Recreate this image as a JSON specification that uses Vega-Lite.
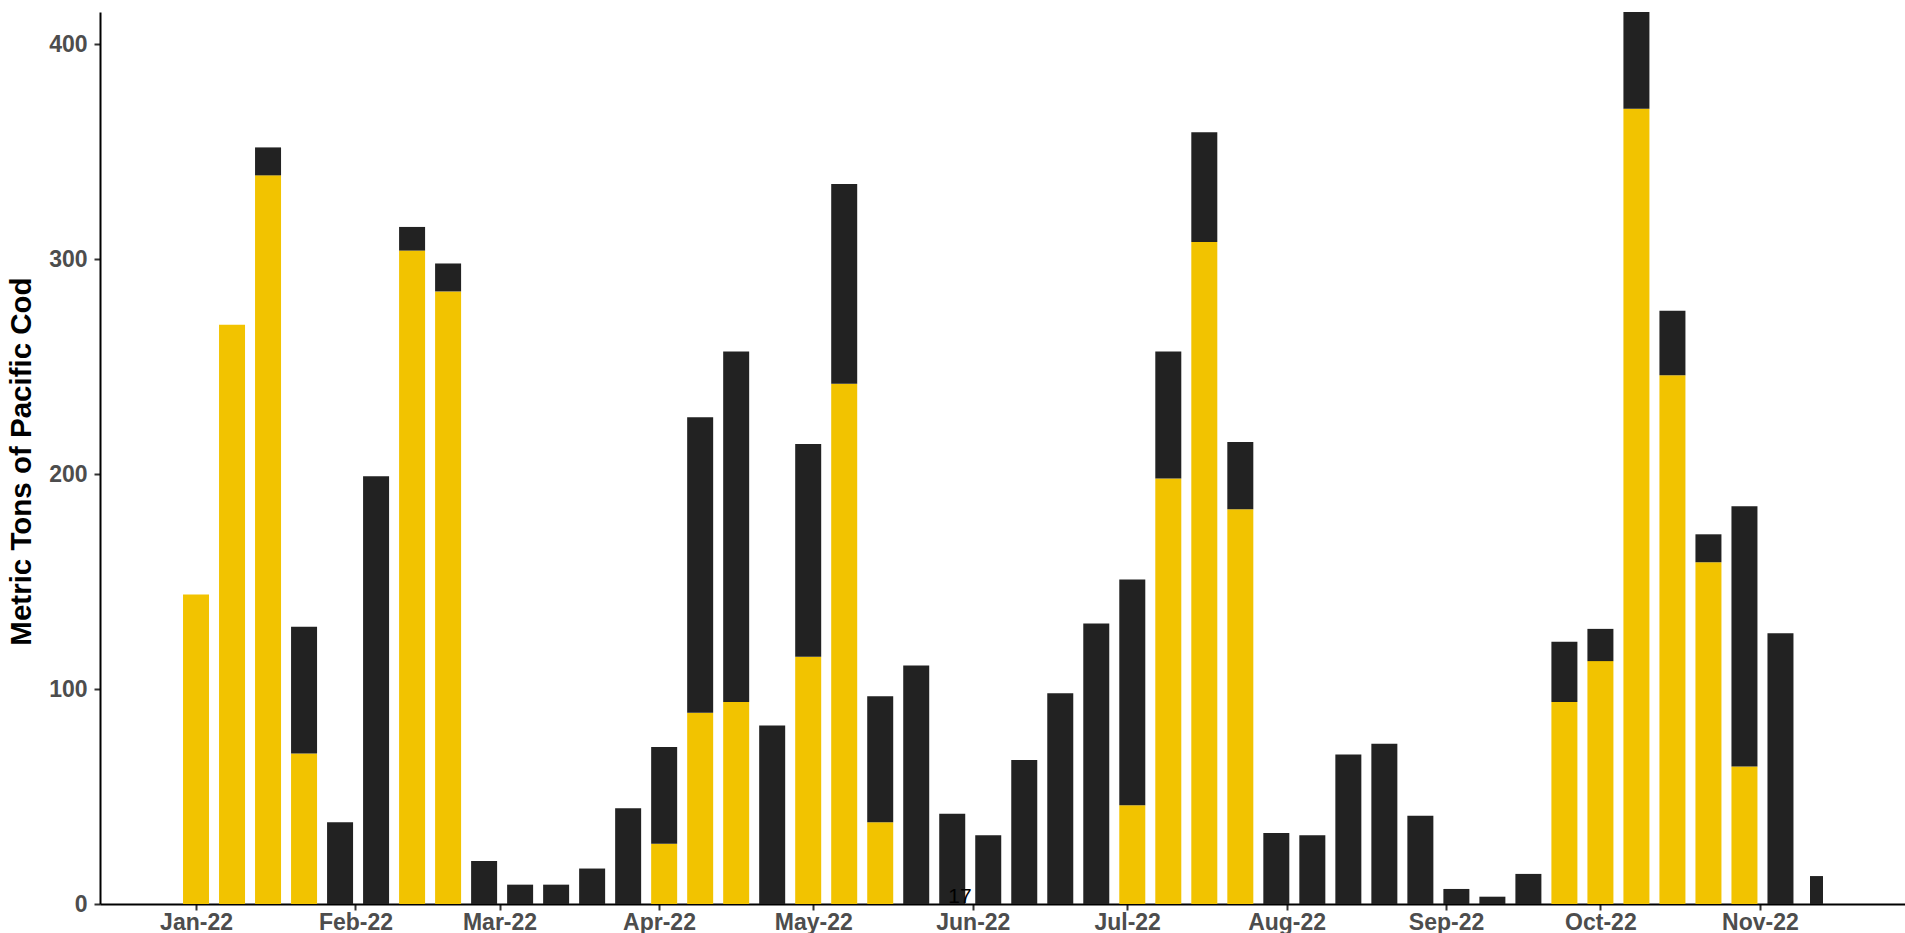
{
  "$schema": "https://vega.github.io/schema/vega-lite/v6.json",
  "autosize": {"type": "none"},
  "width": 1805,
  "height": 892,
  "padding": {"left": 100, "top": 12, "right": 0, "bottom": 29},
  "background": "white",
  "config": {"view": {"stroke": null}},
  "datasets": {
    "bars": [
      {"week": "2022-01-01", "sector": "A", "tons": 144},
      {"week": "2022-01-08", "sector": "A", "tons": 269.5},
      {"week": "2022-01-15", "sector": "A", "tons": 339},
      {"week": "2022-01-15", "sector": "B", "tons": 13},
      {"week": "2022-01-22", "sector": "A", "tons": 70},
      {"week": "2022-01-22", "sector": "B", "tons": 59},
      {"week": "2022-01-29", "sector": "B", "tons": 38},
      {"week": "2022-02-05", "sector": "B", "tons": 199},
      {"week": "2022-02-12", "sector": "A", "tons": 304},
      {"week": "2022-02-12", "sector": "B", "tons": 11},
      {"week": "2022-02-19", "sector": "A", "tons": 285},
      {"week": "2022-02-19", "sector": "B", "tons": 13},
      {"week": "2022-02-26", "sector": "B", "tons": 20},
      {"week": "2022-03-05", "sector": "B", "tons": 9},
      {"week": "2022-03-12", "sector": "B", "tons": 9},
      {"week": "2022-03-19", "sector": "B", "tons": 16.5},
      {"week": "2022-03-26", "sector": "B", "tons": 44.6},
      {"week": "2022-04-02", "sector": "A", "tons": 28},
      {"week": "2022-04-02", "sector": "B", "tons": 45},
      {"week": "2022-04-09", "sector": "A", "tons": 89},
      {"week": "2022-04-09", "sector": "B", "tons": 137.5},
      {"week": "2022-04-16", "sector": "A", "tons": 94},
      {"week": "2022-04-16", "sector": "B", "tons": 163},
      {"week": "2022-04-23", "sector": "B", "tons": 83},
      {"week": "2022-04-30", "sector": "A", "tons": 115},
      {"week": "2022-04-30", "sector": "B", "tons": 99},
      {"week": "2022-05-07", "sector": "A", "tons": 242},
      {"week": "2022-05-07", "sector": "B", "tons": 93},
      {"week": "2022-05-14", "sector": "A", "tons": 38},
      {"week": "2022-05-14", "sector": "B", "tons": 58.6},
      {"week": "2022-05-21", "sector": "B", "tons": 111},
      {"week": "2022-05-28", "sector": "B", "tons": 42},
      {"week": "2022-06-04", "sector": "B", "tons": 32},
      {"week": "2022-06-11", "sector": "B", "tons": 67},
      {"week": "2022-06-18", "sector": "B", "tons": 98},
      {"week": "2022-06-25", "sector": "B", "tons": 130.5},
      {"week": "2022-07-02", "sector": "A", "tons": 46},
      {"week": "2022-07-02", "sector": "B", "tons": 105},
      {"week": "2022-07-09", "sector": "A", "tons": 198},
      {"week": "2022-07-09", "sector": "B", "tons": 59},
      {"week": "2022-07-16", "sector": "A", "tons": 308},
      {"week": "2022-07-16", "sector": "B", "tons": 51},
      {"week": "2022-07-23", "sector": "A", "tons": 183.6},
      {"week": "2022-07-23", "sector": "B", "tons": 31.4},
      {"week": "2022-07-30", "sector": "B", "tons": 33},
      {"week": "2022-08-06", "sector": "B", "tons": 32},
      {"week": "2022-08-13", "sector": "B", "tons": 69.5},
      {"week": "2022-08-20", "sector": "B", "tons": 74.6},
      {"week": "2022-08-27", "sector": "B", "tons": 41},
      {"week": "2022-09-03", "sector": "B", "tons": 7},
      {"week": "2022-09-10", "sector": "B", "tons": 3.4},
      {"week": "2022-09-17", "sector": "B", "tons": 14},
      {"week": "2022-09-24", "sector": "A", "tons": 94},
      {"week": "2022-09-24", "sector": "B", "tons": 28},
      {"week": "2022-10-01", "sector": "A", "tons": 113},
      {"week": "2022-10-01", "sector": "B", "tons": 15},
      {"week": "2022-10-08", "sector": "A", "tons": 370},
      {"week": "2022-10-08", "sector": "B", "tons": 60},
      {"week": "2022-10-15", "sector": "A", "tons": 246},
      {"week": "2022-10-15", "sector": "B", "tons": 30},
      {"week": "2022-10-22", "sector": "A", "tons": 159},
      {"week": "2022-10-22", "sector": "B", "tons": 13},
      {"week": "2022-10-29", "sector": "A", "tons": 64},
      {"week": "2022-10-29", "sector": "B", "tons": 121},
      {"week": "2022-11-05", "sector": "B", "tons": 126},
      {"week": "2022-11-12", "sector": "B", "tons": 13}
    ],
    "notes": [
      {"week": "2022-05-29T12:00:00Z", "tons": 0, "label": "17"}
    ]
  },
  "layer": [
    {
      "data": {"name": "bars"},
      "mark": {"type": "bar", "clip": true},
      "encoding": {
        "x": {
          "field": "week",
          "type": "temporal",
          "scale": {"type": "utc", "padding": 0, "domain": ["2021-12-13T08:00:00Z", "2022-11-29T05:00:00Z"]},
          "axis": {
            "title": null,
            "labelExpr": "utcFormat(datum.value, '%b-%y')",
            "tickCount": {"interval": "month", "step": 1},
            "grid": false,
            "domainColor": "#000000",
            "domainWidth": 2,
            "tickColor": "#333333",
            "tickWidth": 2,
            "tickSize": 6,
            "labelFont": "Liberation Sans",
            "labelFontWeight": "bold",
            "labelFontSize": 23,
            "labelColor": "#4D4D4D",
            "labelPadding": 1,
            "labelFlush": false,
            "labelOverlap": false
          }
        },
        "y": {
          "field": "tons",
          "type": "quantitative",
          "stack": "zero",
          "scale": {"domain": [0, 415], "nice": false},
          "axis": {
            "title": "Metric Tons of Pacific Cod",
            "values": [0, 100, 200, 300, 400],
            "grid": false,
            "domainColor": "#000000",
            "domainWidth": 2,
            "tickColor": "#333333",
            "tickWidth": 2,
            "tickSize": 6,
            "labelFont": "Liberation Sans",
            "labelFontWeight": "bold",
            "labelFontSize": 23,
            "labelColor": "#4D4D4D",
            "labelPadding": 7,
            "titleFont": "Liberation Sans",
            "titleFontWeight": "bold",
            "titleFontSize": 29.5,
            "titleColor": "#000000",
            "titleAngle": -90,
            "titleBaseline": "alphabetic",
            "titleAlign": "center",
            "titleX": -70,
            "titleY": 449
          }
        },
        "color": {
          "field": "sector",
          "type": "nominal",
          "scale": {"domain": ["A", "B"], "range": ["#F2C300", "#222222"]},
          "legend": null
        },
        "order": {"field": "sector", "sort": "ascending"},
        "size": {
          "condition": {"test": "utcmonth(datum.week) == 10 && utcdate(datum.week) == 12", "value": 13},
          "value": 26
        }
      }
    },
    {
      "data": {"name": "notes"},
      "mark": {"type": "text", "font": "Liberation Sans", "fontSize": 21, "color": "#000000", "baseline": "alphabetic", "align": "center", "dy": -1},
      "encoding": {
        "x": {"field": "week", "type": "temporal"},
        "y": {"field": "tons", "type": "quantitative"},
        "text": {"field": "label", "type": "nominal"}
      }
    }
  ]
}
